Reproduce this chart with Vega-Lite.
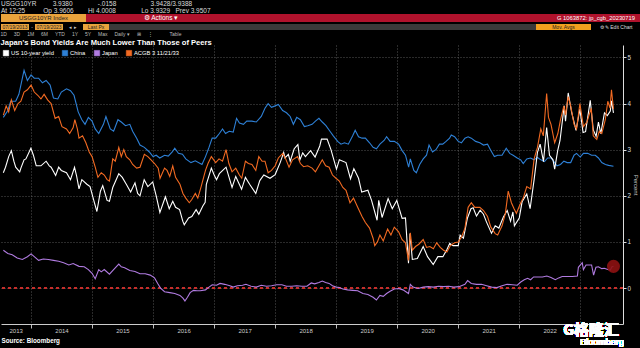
{
  "$schema": "https://vega.github.io/schema/vega-lite/v6.json",
  "background": "black",
  "padding": 0,
  "spacing": 2,
  "title": {
    "text": ["USGG10YR\u00a0\u00a0\u00a0\u00a0\u00a0\u00a0\u00a0\u00a0\u00a03.9380\u00a0\u00a0\u00a0\u00a0\u00a0\u00a0\u00a0\u00a0\u00a0\u00a0\u00a0\u00a0\u00a0\u00a0-.0158\u00a0\u00a0\u00a0\u00a0\u00a0\u00a0\u00a0\u00a0\u00a0\u00a0\u00a0\u00a0\u00a0\u00a0\u00a0\u00a0\u00a0\u00a0\u00a03.9428/3.9388", "At 12:25\u00a0\u00a0\u00a0\u00a0\u00a0\u00a0\u00a0\u00a0\u00a0\u00a0Op 3.9606\u00a0\u00a0\u00a0\u00a0\u00a0\u00a0\u00a0\u00a0Hi 4.0008\u00a0\u00a0\u00a0\u00a0\u00a0\u00a0\u00a0\u00a0\u00a0\u00a0\u00a0\u00a0\u00a0\u00a0Lo 3.9329\u00a0\u00a0\u00a0Prev 3.9507"],
    "anchor": "start", "frame": "group", "fontSize": 6.5, "lineHeight": 7, "color": "#dcdcdc", "fontWeight": "normal", "offset": 0
  },
  "datasets": {
    "yields": [
      {"date":"2013-07-19","series":"China","yield":3.70},{"date":"2013-08-15","series":"China","yield":3.85},{"date":"2013-09-01","series":"China","yield":4.05},{"date":"2013-10-01","series":"China","yield":4.05},{"date":"2013-10-20","series":"China","yield":4.20},{"date":"2013-11-20","series":"China","yield":4.72},{"date":"2013-12-10","series":"China","yield":4.50},{"date":"2014-01-01","series":"China","yield":4.62},{"date":"2014-01-20","series":"China","yield":4.55},{"date":"2014-02-15","series":"China","yield":4.55},{"date":"2014-03-10","series":"China","yield":4.45},{"date":"2014-04-01","series":"China","yield":4.50},{"date":"2014-04-25","series":"China","yield":4.40},{"date":"2014-05-15","series":"China","yield":4.12},{"date":"2014-06-10","series":"China","yield":4.10},{"date":"2014-07-01","series":"China","yield":4.25},{"date":"2014-08-01","series":"China","yield":4.32},{"date":"2014-08-25","series":"China","yield":4.28},{"date":"2014-09-15","series":"China","yield":4.18},{"date":"2014-10-10","series":"China","yield":3.82},{"date":"2014-11-01","series":"China","yield":3.65},{"date":"2014-11-20","series":"China","yield":3.55},{"date":"2014-12-10","series":"China","yield":3.70},{"date":"2015-01-01","series":"China","yield":3.62},{"date":"2015-01-20","series":"China","yield":3.45},{"date":"2015-02-10","series":"China","yield":3.35},{"date":"2015-03-10","series":"China","yield":3.55},{"date":"2015-03-25","series":"China","yield":3.72},{"date":"2015-04-20","series":"China","yield":3.45},{"date":"2015-05-10","series":"China","yield":3.40},{"date":"2015-06-05","series":"China","yield":3.65},{"date":"2015-06-25","series":"China","yield":3.60},{"date":"2015-07-20","series":"China","yield":3.52},{"date":"2015-08-15","series":"China","yield":3.55},{"date":"2015-09-01","series":"China","yield":3.40},{"date":"2015-09-25","series":"China","yield":3.25},{"date":"2015-10-15","series":"China","yield":3.10},{"date":"2015-11-10","series":"China","yield":3.05},{"date":"2015-12-10","series":"China","yield":2.95},{"date":"2016-01-01","series":"China","yield":2.85},{"date":"2016-01-20","series":"China","yield":2.88},{"date":"2016-02-10","series":"China","yield":2.82},{"date":"2016-03-10","series":"China","yield":2.88},{"date":"2016-04-01","series":"China","yield":2.86},{"date":"2016-04-25","series":"China","yield":2.95},{"date":"2016-05-10","series":"China","yield":3.03},{"date":"2016-06-01","series":"China","yield":2.92},{"date":"2016-06-25","series":"China","yield":2.90},{"date":"2016-07-15","series":"China","yield":2.80},{"date":"2016-08-15","series":"China","yield":2.72},{"date":"2016-09-10","series":"China","yield":2.76},{"date":"2016-10-20","series":"China","yield":2.68},{"date":"2016-11-10","series":"China","yield":2.85},{"date":"2016-12-01","series":"China","yield":3.05},{"date":"2016-12-20","series":"China","yield":3.25},{"date":"2017-01-10","series":"China","yield":3.25},{"date":"2017-02-01","series":"China","yield":3.35},{"date":"2017-02-20","series":"China","yield":3.45},{"date":"2017-03-10","series":"China","yield":3.35},{"date":"2017-04-01","series":"China","yield":3.40},{"date":"2017-04-25","series":"China","yield":3.38},{"date":"2017-05-15","series":"China","yield":3.68},{"date":"2017-06-01","series":"China","yield":3.58},{"date":"2017-06-25","series":"China","yield":3.55},{"date":"2017-07-15","series":"China","yield":3.62},{"date":"2017-08-15","series":"China","yield":3.62},{"date":"2017-09-10","series":"China","yield":3.60},{"date":"2017-10-10","series":"China","yield":3.72},{"date":"2017-11-01","series":"China","yield":3.90},{"date":"2017-11-20","series":"China","yield":4.00},{"date":"2017-12-10","series":"China","yield":3.92},{"date":"2018-01-01","series":"China","yield":3.95},{"date":"2018-01-20","series":"China","yield":3.98},{"date":"2018-02-15","series":"China","yield":3.85},{"date":"2018-03-10","series":"China","yield":3.80},{"date":"2018-04-01","series":"China","yield":3.72},{"date":"2018-04-20","series":"China","yield":3.55},{"date":"2018-05-10","series":"China","yield":3.70},{"date":"2018-06-01","series":"China","yield":3.65},{"date":"2018-06-25","series":"China","yield":3.50},{"date":"2018-07-15","series":"China","yield":3.52},{"date":"2018-08-10","series":"China","yield":3.55},{"date":"2018-08-30","series":"China","yield":3.62},{"date":"2018-09-20","series":"China","yield":3.68},{"date":"2018-10-10","series":"China","yield":3.60},{"date":"2018-11-01","series":"China","yield":3.52},{"date":"2018-11-25","series":"China","yield":3.40},{"date":"2018-12-15","series":"China","yield":3.30},{"date":"2019-01-10","series":"China","yield":3.18},{"date":"2019-01-30","series":"China","yield":3.12},{"date":"2019-02-20","series":"China","yield":3.15},{"date":"2019-03-15","series":"China","yield":3.12},{"date":"2019-04-10","series":"China","yield":3.30},{"date":"2019-04-25","series":"China","yield":3.42},{"date":"2019-05-15","series":"China","yield":3.28},{"date":"2019-06-05","series":"China","yield":3.25},{"date":"2019-06-25","series":"China","yield":3.25},{"date":"2019-07-20","series":"China","yield":3.15},{"date":"2019-08-10","series":"China","yield":3.05},{"date":"2019-08-30","series":"China","yield":3.02},{"date":"2019-09-20","series":"China","yield":3.12},{"date":"2019-10-15","series":"China","yield":3.20},{"date":"2019-10-30","series":"China","yield":3.28},{"date":"2019-11-20","series":"China","yield":3.18},{"date":"2019-12-15","series":"China","yield":3.18},{"date":"2020-01-10","series":"China","yield":3.12},{"date":"2020-01-31","series":"China","yield":2.98},{"date":"2020-02-20","series":"China","yield":2.88},{"date":"2020-03-10","series":"China","yield":2.62},{"date":"2020-03-20","series":"China","yield":2.80},{"date":"2020-04-10","series":"China","yield":2.55},{"date":"2020-04-25","series":"China","yield":2.50},{"date":"2020-05-15","series":"China","yield":2.68},{"date":"2020-06-05","series":"China","yield":2.80},{"date":"2020-06-25","series":"China","yield":2.88},{"date":"2020-07-10","series":"China","yield":3.10},{"date":"2020-07-31","series":"China","yield":2.95},{"date":"2020-08-20","series":"China","yield":3.00},{"date":"2020-09-10","series":"China","yield":3.12},{"date":"2020-09-30","series":"China","yield":3.12},{"date":"2020-10-20","series":"China","yield":3.18},{"date":"2020-11-10","series":"China","yield":3.25},{"date":"2020-11-20","series":"China","yield":3.32},{"date":"2020-12-10","series":"China","yield":3.28},{"date":"2021-01-01","series":"China","yield":3.18},{"date":"2021-01-20","series":"China","yield":3.15},{"date":"2021-02-10","series":"China","yield":3.25},{"date":"2021-03-01","series":"China","yield":3.28},{"date":"2021-03-20","series":"China","yield":3.25},{"date":"2021-04-15","series":"China","yield":3.18},{"date":"2021-05-10","series":"China","yield":3.15},{"date":"2021-06-01","series":"China","yield":3.10},{"date":"2021-06-25","series":"China","yield":3.12},{"date":"2021-07-15","series":"China","yield":2.98},{"date":"2021-08-05","series":"China","yield":2.85},{"date":"2021-08-25","series":"China","yield":2.88},{"date":"2021-09-20","series":"China","yield":2.88},{"date":"2021-10-15","series":"China","yield":3.03},{"date":"2021-11-05","series":"China","yield":2.92},{"date":"2021-11-25","series":"China","yield":2.88},{"date":"2021-12-20","series":"China","yield":2.82},{"date":"2022-01-10","series":"China","yield":2.78},{"date":"2022-01-25","series":"China","yield":2.70},{"date":"2022-02-15","series":"China","yield":2.80},{"date":"2022-03-10","series":"China","yield":2.82},{"date":"2022-03-30","series":"China","yield":2.78},{"date":"2022-04-20","series":"China","yield":2.83},{"date":"2022-05-10","series":"China","yield":2.78},{"date":"2022-06-01","series":"China","yield":2.74},{"date":"2022-06-20","series":"China","yield":2.82},{"date":"2022-07-10","series":"China","yield":2.82},{"date":"2022-07-25","series":"China","yield":2.75},{"date":"2022-08-15","series":"China","yield":2.65},{"date":"2022-09-05","series":"China","yield":2.68},{"date":"2022-09-25","series":"China","yield":2.75},{"date":"2022-10-15","series":"China","yield":2.72},{"date":"2022-11-05","series":"China","yield":2.72},{"date":"2022-11-25","series":"China","yield":2.88},{"date":"2022-12-10","series":"China","yield":2.92},{"date":"2023-01-01","series":"China","yield":2.84},{"date":"2023-01-20","series":"China","yield":2.92},{"date":"2023-02-15","series":"China","yield":2.92},{"date":"2023-03-10","series":"China","yield":2.88},{"date":"2023-04-01","series":"China","yield":2.88},{"date":"2023-04-20","series":"China","yield":2.82},{"date":"2023-05-10","series":"China","yield":2.72},{"date":"2023-06-01","series":"China","yield":2.68},{"date":"2023-06-20","series":"China","yield":2.66},{"date":"2023-07-19","series":"China","yield":2.64},

      {"date":"2013-07-19","series":"Japan","yield":0.82},{"date":"2013-08-15","series":"Japan","yield":0.75},{"date":"2013-09-10","series":"Japan","yield":0.72},{"date":"2013-10-10","series":"Japan","yield":0.65},{"date":"2013-11-10","series":"Japan","yield":0.62},{"date":"2013-12-10","series":"Japan","yield":0.68},{"date":"2014-01-01","series":"Japan","yield":0.74},{"date":"2014-01-20","series":"Japan","yield":0.68},{"date":"2014-02-15","series":"Japan","yield":0.60},{"date":"2014-03-15","series":"Japan","yield":0.63},{"date":"2014-04-15","series":"Japan","yield":0.62},{"date":"2014-05-15","series":"Japan","yield":0.60},{"date":"2014-06-15","series":"Japan","yield":0.58},{"date":"2014-07-15","series":"Japan","yield":0.55},{"date":"2014-08-15","series":"Japan","yield":0.50},{"date":"2014-09-10","series":"Japan","yield":0.53},{"date":"2014-10-15","series":"Japan","yield":0.47},{"date":"2014-11-15","series":"Japan","yield":0.46},{"date":"2014-12-10","series":"Japan","yield":0.40},{"date":"2015-01-01","series":"Japan","yield":0.32},{"date":"2015-01-20","series":"Japan","yield":0.20},{"date":"2015-02-10","series":"Japan","yield":0.40},{"date":"2015-02-25","series":"Japan","yield":0.35},{"date":"2015-03-15","series":"Japan","yield":0.40},{"date":"2015-04-15","series":"Japan","yield":0.30},{"date":"2015-05-10","series":"Japan","yield":0.40},{"date":"2015-06-10","series":"Japan","yield":0.52},{"date":"2015-06-25","series":"Japan","yield":0.46},{"date":"2015-07-15","series":"Japan","yield":0.44},{"date":"2015-08-15","series":"Japan","yield":0.38},{"date":"2015-09-15","series":"Japan","yield":0.36},{"date":"2015-10-15","series":"Japan","yield":0.31},{"date":"2015-11-15","series":"Japan","yield":0.31},{"date":"2015-12-15","series":"Japan","yield":0.28},{"date":"2016-01-10","series":"Japan","yield":0.22},{"date":"2016-01-29","series":"Japan","yield":0.10},{"date":"2016-02-15","series":"Japan","yield":0.00},{"date":"2016-03-10","series":"Japan","yield":-0.08},{"date":"2016-04-10","series":"Japan","yield":-0.10},{"date":"2016-05-10","series":"Japan","yield":-0.12},{"date":"2016-06-10","series":"Japan","yield":-0.16},{"date":"2016-06-28","series":"Japan","yield":-0.22},{"date":"2016-07-10","series":"Japan","yield":-0.28},{"date":"2016-07-25","series":"Japan","yield":-0.20},{"date":"2016-08-10","series":"Japan","yield":-0.10},{"date":"2016-08-30","series":"Japan","yield":-0.05},{"date":"2016-09-20","series":"Japan","yield":-0.06},{"date":"2016-10-10","series":"Japan","yield":-0.06},{"date":"2016-11-10","series":"Japan","yield":-0.04},{"date":"2016-12-01","series":"Japan","yield":0.02},{"date":"2016-12-20","series":"Japan","yield":0.07},{"date":"2017-01-15","series":"Japan","yield":0.06},{"date":"2017-02-05","series":"Japan","yield":0.10},{"date":"2017-03-05","series":"Japan","yield":0.08},{"date":"2017-04-05","series":"Japan","yield":0.05},{"date":"2017-04-25","series":"Japan","yield":0.02},{"date":"2017-05-20","series":"Japan","yield":0.05},{"date":"2017-06-20","series":"Japan","yield":0.06},{"date":"2017-07-10","series":"Japan","yield":0.08},{"date":"2017-08-10","series":"Japan","yield":0.04},{"date":"2017-09-10","series":"Japan","yield":0.02},{"date":"2017-10-10","series":"Japan","yield":0.06},{"date":"2017-11-10","series":"Japan","yield":0.04},{"date":"2017-12-10","series":"Japan","yield":0.05},{"date":"2018-01-10","series":"Japan","yield":0.07},{"date":"2018-02-10","series":"Japan","yield":0.07},{"date":"2018-03-10","series":"Japan","yield":0.04},{"date":"2018-04-10","series":"Japan","yield":0.04},{"date":"2018-05-10","series":"Japan","yield":0.05},{"date":"2018-06-10","series":"Japan","yield":0.04},{"date":"2018-07-10","series":"Japan","yield":0.04},{"date":"2018-08-05","series":"Japan","yield":0.11},{"date":"2018-08-25","series":"Japan","yield":0.09},{"date":"2018-09-20","series":"Japan","yield":0.12},{"date":"2018-10-10","series":"Japan","yield":0.15},{"date":"2018-10-30","series":"Japan","yield":0.12},{"date":"2018-11-20","series":"Japan","yield":0.10},{"date":"2018-12-10","series":"Japan","yield":0.05},{"date":"2019-01-01","series":"Japan","yield":0.02},{"date":"2019-01-20","series":"Japan","yield":0.01},{"date":"2019-02-10","series":"Japan","yield":-0.02},{"date":"2019-03-10","series":"Japan","yield":-0.04},{"date":"2019-04-10","series":"Japan","yield":-0.05},{"date":"2019-05-10","series":"Japan","yield":-0.06},{"date":"2019-06-10","series":"Japan","yield":-0.12},{"date":"2019-07-10","series":"Japan","yield":-0.14},{"date":"2019-08-10","series":"Japan","yield":-0.20},{"date":"2019-08-30","series":"Japan","yield":-0.26},{"date":"2019-09-20","series":"Japan","yield":-0.16},{"date":"2019-10-10","series":"Japan","yield":-0.18},{"date":"2019-10-30","series":"Japan","yield":-0.12},{"date":"2019-11-20","series":"Japan","yield":-0.07},{"date":"2019-12-15","series":"Japan","yield":-0.02},{"date":"2020-01-10","series":"Japan","yield":-0.01},{"date":"2020-02-05","series":"Japan","yield":-0.04},{"date":"2020-03-09","series":"Japan","yield":-0.12},{"date":"2020-03-20","series":"Japan","yield":0.08},{"date":"2020-04-05","series":"Japan","yield":0.02},{"date":"2020-05-05","series":"Japan","yield":-0.01},{"date":"2020-06-05","series":"Japan","yield":0.02},{"date":"2020-07-05","series":"Japan","yield":0.03},{"date":"2020-08-05","series":"Japan","yield":0.02},{"date":"2020-09-05","series":"Japan","yield":0.04},{"date":"2020-10-05","series":"Japan","yield":0.03},{"date":"2020-11-05","series":"Japan","yield":0.04},{"date":"2020-12-05","series":"Japan","yield":0.02},{"date":"2021-01-05","series":"Japan","yield":0.03},{"date":"2021-02-10","series":"Japan","yield":0.08},{"date":"2021-02-26","series":"Japan","yield":0.16},{"date":"2021-03-20","series":"Japan","yield":0.10},{"date":"2021-04-20","series":"Japan","yield":0.08},{"date":"2021-05-20","series":"Japan","yield":0.08},{"date":"2021-06-20","series":"Japan","yield":0.05},{"date":"2021-07-20","series":"Japan","yield":0.02},{"date":"2021-08-20","series":"Japan","yield":0.01},{"date":"2021-09-20","series":"Japan","yield":0.05},{"date":"2021-10-20","series":"Japan","yield":0.08},{"date":"2021-11-20","series":"Japan","yield":0.07},{"date":"2021-12-20","series":"Japan","yield":0.06},{"date":"2022-01-10","series":"Japan","yield":0.13},{"date":"2022-01-31","series":"Japan","yield":0.18},{"date":"2022-02-20","series":"Japan","yield":0.21},{"date":"2022-03-10","series":"Japan","yield":0.18},{"date":"2022-03-28","series":"Japan","yield":0.24},{"date":"2022-04-20","series":"Japan","yield":0.24},{"date":"2022-05-20","series":"Japan","yield":0.24},{"date":"2022-06-15","series":"Japan","yield":0.26},{"date":"2022-07-10","series":"Japan","yield":0.23},{"date":"2022-08-05","series":"Japan","yield":0.18},{"date":"2022-08-25","series":"Japan","yield":0.22},{"date":"2022-09-15","series":"Japan","yield":0.25},{"date":"2022-10-15","series":"Japan","yield":0.25},{"date":"2022-11-15","series":"Japan","yield":0.25},{"date":"2022-12-15","series":"Japan","yield":0.26},{"date":"2022-12-21","series":"Japan","yield":0.45},{"date":"2023-01-13","series":"Japan","yield":0.55},{"date":"2023-01-20","series":"Japan","yield":0.40},{"date":"2023-02-05","series":"Japan","yield":0.50},{"date":"2023-02-20","series":"Japan","yield":0.50},{"date":"2023-03-10","series":"Japan","yield":0.50},{"date":"2023-03-22","series":"Japan","yield":0.28},{"date":"2023-04-05","series":"Japan","yield":0.45},{"date":"2023-04-20","series":"Japan","yield":0.46},{"date":"2023-05-10","series":"Japan","yield":0.42},{"date":"2023-05-25","series":"Japan","yield":0.43},{"date":"2023-06-15","series":"Japan","yield":0.40},{"date":"2023-06-30","series":"Japan","yield":0.39},{"date":"2023-07-10","series":"Japan","yield":0.46},{"date":"2023-07-19","series":"Japan","yield":0.47},

      {"date":"2013-07-19","series":"US 10-year yield","yield":2.50},{"date":"2013-08-01","series":"US 10-year yield","yield":2.62},{"date":"2013-08-20","series":"US 10-year yield","yield":2.85},{"date":"2013-09-05","series":"US 10-year yield","yield":2.98},{"date":"2013-09-20","series":"US 10-year yield","yield":2.75},{"date":"2013-10-01","series":"US 10-year yield","yield":2.62},{"date":"2013-10-25","series":"US 10-year yield","yield":2.52},{"date":"2013-11-01","series":"US 10-year yield","yield":2.60},{"date":"2013-11-20","series":"US 10-year yield","yield":2.78},{"date":"2013-12-01","series":"US 10-year yield","yield":2.80},{"date":"2013-12-31","series":"US 10-year yield","yield":3.03},{"date":"2014-01-15","series":"US 10-year yield","yield":2.88},{"date":"2014-02-01","series":"US 10-year yield","yield":2.65},{"date":"2014-03-01","series":"US 10-year yield","yield":2.65},{"date":"2014-04-01","series":"US 10-year yield","yield":2.75},{"date":"2014-04-20","series":"US 10-year yield","yield":2.65},{"date":"2014-05-01","series":"US 10-year yield","yield":2.62},{"date":"2014-05-28","series":"US 10-year yield","yield":2.44},{"date":"2014-06-15","series":"US 10-year yield","yield":2.62},{"date":"2014-07-01","series":"US 10-year yield","yield":2.55},{"date":"2014-08-01","series":"US 10-year yield","yield":2.50},{"date":"2014-08-25","series":"US 10-year yield","yield":2.35},{"date":"2014-09-18","series":"US 10-year yield","yield":2.62},{"date":"2014-10-01","series":"US 10-year yield","yield":2.42},{"date":"2014-10-15","series":"US 10-year yield","yield":2.15},{"date":"2014-11-01","series":"US 10-year yield","yield":2.35},{"date":"2014-12-01","series":"US 10-year yield","yield":2.25},{"date":"2014-12-20","series":"US 10-year yield","yield":2.20},{"date":"2015-01-15","series":"US 10-year yield","yield":1.85},{"date":"2015-01-30","series":"US 10-year yield","yield":1.66},{"date":"2015-02-20","series":"US 10-year yield","yield":2.10},{"date":"2015-03-06","series":"US 10-year yield","yield":2.22},{"date":"2015-04-01","series":"US 10-year yield","yield":1.90},{"date":"2015-04-15","series":"US 10-year yield","yield":1.88},{"date":"2015-05-05","series":"US 10-year yield","yield":2.18},{"date":"2015-06-10","series":"US 10-year yield","yield":2.48},{"date":"2015-07-01","series":"US 10-year yield","yield":2.40},{"date":"2015-07-25","series":"US 10-year yield","yield":2.25},{"date":"2015-08-20","series":"US 10-year yield","yield":2.08},{"date":"2015-09-15","series":"US 10-year yield","yield":2.28},{"date":"2015-10-01","series":"US 10-year yield","yield":2.05},{"date":"2015-10-15","series":"US 10-year yield","yield":2.00},{"date":"2015-11-09","series":"US 10-year yield","yield":2.35},{"date":"2015-12-01","series":"US 10-year yield","yield":2.20},{"date":"2015-12-30","series":"US 10-year yield","yield":2.30},{"date":"2016-01-20","series":"US 10-year yield","yield":2.00},{"date":"2016-02-11","series":"US 10-year yield","yield":1.64},{"date":"2016-03-15","series":"US 10-year yield","yield":1.98},{"date":"2016-04-07","series":"US 10-year yield","yield":1.72},{"date":"2016-04-28","series":"US 10-year yield","yield":1.88},{"date":"2016-05-15","series":"US 10-year yield","yield":1.75},{"date":"2016-06-08","series":"US 10-year yield","yield":1.70},{"date":"2016-06-27","series":"US 10-year yield","yield":1.45},{"date":"2016-07-06","series":"US 10-year yield","yield":1.37},{"date":"2016-08-01","series":"US 10-year yield","yield":1.52},{"date":"2016-08-20","series":"US 10-year yield","yield":1.55},{"date":"2016-09-15","series":"US 10-year yield","yield":1.70},{"date":"2016-10-01","series":"US 10-year yield","yield":1.60},{"date":"2016-10-25","series":"US 10-year yield","yield":1.78},{"date":"2016-11-08","series":"US 10-year yield","yield":1.86},{"date":"2016-11-15","series":"US 10-year yield","yield":2.25},{"date":"2016-12-15","series":"US 10-year yield","yield":2.60},{"date":"2017-01-01","series":"US 10-year yield","yield":2.45},{"date":"2017-01-15","series":"US 10-year yield","yield":2.35},{"date":"2017-02-01","series":"US 10-year yield","yield":2.48},{"date":"2017-03-13","series":"US 10-year yield","yield":2.62},{"date":"2017-04-18","series":"US 10-year yield","yield":2.18},{"date":"2017-05-10","series":"US 10-year yield","yield":2.42},{"date":"2017-06-14","series":"US 10-year yield","yield":2.14},{"date":"2017-07-07","series":"US 10-year yield","yield":2.40},{"date":"2017-08-01","series":"US 10-year yield","yield":2.25},{"date":"2017-09-07","series":"US 10-year yield","yield":2.05},{"date":"2017-10-01","series":"US 10-year yield","yield":2.33},{"date":"2017-10-25","series":"US 10-year yield","yield":2.45},{"date":"2017-12-01","series":"US 10-year yield","yield":2.38},{"date":"2018-01-01","series":"US 10-year yield","yield":2.46},{"date":"2018-01-31","series":"US 10-year yield","yield":2.72},{"date":"2018-02-21","series":"US 10-year yield","yield":2.94},{"date":"2018-03-01","series":"US 10-year yield","yield":2.82},{"date":"2018-03-21","series":"US 10-year yield","yield":2.90},{"date":"2018-04-01","series":"US 10-year yield","yield":2.75},{"date":"2018-04-25","series":"US 10-year yield","yield":3.02},{"date":"2018-05-17","series":"US 10-year yield","yield":3.11},{"date":"2018-05-29","series":"US 10-year yield","yield":2.78},{"date":"2018-06-15","series":"US 10-year yield","yield":2.93},{"date":"2018-07-01","series":"US 10-year yield","yield":2.85},{"date":"2018-08-01","series":"US 10-year yield","yield":2.98},{"date":"2018-08-28","series":"US 10-year yield","yield":2.84},{"date":"2018-09-25","series":"US 10-year yield","yield":3.08},{"date":"2018-10-05","series":"US 10-year yield","yield":3.23},{"date":"2018-11-08","series":"US 10-year yield","yield":3.23},{"date":"2018-12-01","series":"US 10-year yield","yield":3.00},{"date":"2019-01-03","series":"US 10-year yield","yield":2.58},{"date":"2019-01-20","series":"US 10-year yield","yield":2.78},{"date":"2019-03-01","series":"US 10-year yield","yield":2.72},{"date":"2019-03-28","series":"US 10-year yield","yield":2.37},{"date":"2019-04-17","series":"US 10-year yield","yield":2.59},{"date":"2019-05-15","series":"US 10-year yield","yield":2.38},{"date":"2019-06-03","series":"US 10-year yield","yield":2.08},{"date":"2019-07-10","series":"US 10-year yield","yield":2.12},{"date":"2019-08-01","series":"US 10-year yield","yield":1.90},{"date":"2019-09-03","series":"US 10-year yield","yield":1.47},{"date":"2019-09-13","series":"US 10-year yield","yield":1.90},{"date":"2019-10-03","series":"US 10-year yield","yield":1.53},{"date":"2019-11-08","series":"US 10-year yield","yield":1.94},{"date":"2019-12-03","series":"US 10-year yield","yield":1.72},{"date":"2019-12-30","series":"US 10-year yield","yield":1.90},{"date":"2020-01-31","series":"US 10-year yield","yield":1.51},{"date":"2020-02-20","series":"US 10-year yield","yield":1.52},{"date":"2020-03-09","series":"US 10-year yield","yield":0.54},{"date":"2020-03-18","series":"US 10-year yield","yield":1.18},{"date":"2020-04-01","series":"US 10-year yield","yield":0.62},{"date":"2020-05-01","series":"US 10-year yield","yield":0.64},{"date":"2020-06-05","series":"US 10-year yield","yield":0.90},{"date":"2020-07-01","series":"US 10-year yield","yield":0.68},{"date":"2020-08-04","series":"US 10-year yield","yield":0.51},{"date":"2020-09-01","series":"US 10-year yield","yield":0.68},{"date":"2020-10-01","series":"US 10-year yield","yield":0.68},{"date":"2020-10-26","series":"US 10-year yield","yield":0.84},{"date":"2020-11-11","series":"US 10-year yield","yield":0.97},{"date":"2020-12-01","series":"US 10-year yield","yield":0.92},{"date":"2021-01-01","series":"US 10-year yield","yield":0.92},{"date":"2021-01-12","series":"US 10-year yield","yield":1.15},{"date":"2021-02-01","series":"US 10-year yield","yield":1.08},{"date":"2021-02-25","series":"US 10-year yield","yield":1.52},{"date":"2021-03-18","series":"US 10-year yield","yield":1.72},{"date":"2021-03-31","series":"US 10-year yield","yield":1.74},{"date":"2021-04-20","series":"US 10-year yield","yield":1.56},{"date":"2021-05-12","series":"US 10-year yield","yield":1.69},{"date":"2021-06-01","series":"US 10-year yield","yield":1.60},{"date":"2021-06-18","series":"US 10-year yield","yield":1.44},{"date":"2021-07-19","series":"US 10-year yield","yield":1.19},{"date":"2021-08-10","series":"US 10-year yield","yield":1.35},{"date":"2021-09-01","series":"US 10-year yield","yield":1.30},{"date":"2021-09-28","series":"US 10-year yield","yield":1.54},{"date":"2021-10-21","series":"US 10-year yield","yield":1.68},{"date":"2021-11-10","series":"US 10-year yield","yield":1.45},{"date":"2021-11-24","series":"US 10-year yield","yield":1.65},{"date":"2021-12-03","series":"US 10-year yield","yield":1.35},{"date":"2022-01-01","series":"US 10-year yield","yield":1.52},{"date":"2022-01-18","series":"US 10-year yield","yield":1.87},{"date":"2022-02-15","series":"US 10-year yield","yield":2.04},{"date":"2022-03-07","series":"US 10-year yield","yield":1.72},{"date":"2022-03-31","series":"US 10-year yield","yield":2.35},{"date":"2022-04-20","series":"US 10-year yield","yield":2.94},{"date":"2022-05-06","series":"US 10-year yield","yield":3.12},{"date":"2022-05-26","series":"US 10-year yield","yield":2.74},{"date":"2022-06-14","series":"US 10-year yield","yield":3.48},{"date":"2022-07-01","series":"US 10-year yield","yield":2.88},{"date":"2022-07-22","series":"US 10-year yield","yield":2.78},{"date":"2022-08-01","series":"US 10-year yield","yield":2.58},{"date":"2022-08-19","series":"US 10-year yield","yield":2.98},{"date":"2022-09-02","series":"US 10-year yield","yield":3.20},{"date":"2022-09-27","series":"US 10-year yield","yield":3.95},{"date":"2022-10-05","series":"US 10-year yield","yield":3.62},{"date":"2022-10-21","series":"US 10-year yield","yield":4.23},{"date":"2022-11-10","series":"US 10-year yield","yield":3.82},{"date":"2022-12-07","series":"US 10-year yield","yield":3.42},{"date":"2022-12-30","series":"US 10-year yield","yield":3.88},{"date":"2023-01-18","series":"US 10-year yield","yield":3.37},{"date":"2023-02-02","series":"US 10-year yield","yield":3.39},{"date":"2023-03-02","series":"US 10-year yield","yield":4.07},{"date":"2023-03-20","series":"US 10-year yield","yield":3.43},{"date":"2023-04-06","series":"US 10-year yield","yield":3.29},{"date":"2023-04-20","series":"US 10-year yield","yield":3.60},{"date":"2023-05-04","series":"US 10-year yield","yield":3.35},{"date":"2023-05-26","series":"US 10-year yield","yield":3.80},{"date":"2023-06-12","series":"US 10-year yield","yield":3.74},{"date":"2023-06-30","series":"US 10-year yield","yield":3.84},{"date":"2023-07-07","series":"US 10-year yield","yield":4.06},{"date":"2023-07-19","series":"US 10-year yield","yield":3.80},

      {"date":"2013-07-19","series":"ACGB 3 11/21/33","yield":3.75},{"date":"2013-08-05","series":"ACGB 3 11/21/33","yield":3.95},{"date":"2013-08-20","series":"ACGB 3 11/21/33","yield":3.82},{"date":"2013-09-05","series":"ACGB 3 11/21/33","yield":4.08},{"date":"2013-09-25","series":"ACGB 3 11/21/33","yield":3.85},{"date":"2013-10-15","series":"ACGB 3 11/21/33","yield":4.00},{"date":"2013-11-01","series":"ACGB 3 11/21/33","yield":4.05},{"date":"2013-11-20","series":"ACGB 3 11/21/33","yield":4.25},{"date":"2013-12-10","series":"ACGB 3 11/21/33","yield":4.30},{"date":"2014-01-01","series":"ACGB 3 11/21/33","yield":4.40},{"date":"2014-01-20","series":"ACGB 3 11/21/33","yield":4.25},{"date":"2014-02-10","series":"ACGB 3 11/21/33","yield":4.18},{"date":"2014-03-01","series":"ACGB 3 11/21/33","yield":4.10},{"date":"2014-03-20","series":"ACGB 3 11/21/33","yield":4.20},{"date":"2014-04-10","series":"ACGB 3 11/21/33","yield":4.08},{"date":"2014-05-01","series":"ACGB 3 11/21/33","yield":4.00},{"date":"2014-05-25","series":"ACGB 3 11/21/33","yield":3.68},{"date":"2014-06-15","series":"ACGB 3 11/21/33","yield":3.72},{"date":"2014-07-05","series":"ACGB 3 11/21/33","yield":3.50},{"date":"2014-08-01","series":"ACGB 3 11/21/33","yield":3.45},{"date":"2014-08-20","series":"ACGB 3 11/21/33","yield":3.35},{"date":"2014-09-10","series":"ACGB 3 11/21/33","yield":3.48},{"date":"2014-09-20","series":"ACGB 3 11/21/33","yield":3.65},{"date":"2014-10-05","series":"ACGB 3 11/21/33","yield":3.45},{"date":"2014-10-15","series":"ACGB 3 11/21/33","yield":3.25},{"date":"2014-11-05","series":"ACGB 3 11/21/33","yield":3.30},{"date":"2014-11-25","series":"ACGB 3 11/21/33","yield":3.15},{"date":"2014-12-15","series":"ACGB 3 11/21/33","yield":2.95},{"date":"2015-01-01","series":"ACGB 3 11/21/33","yield":2.85},{"date":"2015-01-20","series":"ACGB 3 11/21/33","yield":2.62},{"date":"2015-02-05","series":"ACGB 3 11/21/33","yield":2.40},{"date":"2015-02-25","series":"ACGB 3 11/21/33","yield":2.50},{"date":"2015-03-15","series":"ACGB 3 11/21/33","yield":2.45},{"date":"2015-04-01","series":"ACGB 3 11/21/33","yield":2.35},{"date":"2015-04-15","series":"ACGB 3 11/21/33","yield":2.32},{"date":"2015-05-05","series":"ACGB 3 11/21/33","yield":2.80},{"date":"2015-05-20","series":"ACGB 3 11/21/33","yield":2.75},{"date":"2015-06-10","series":"ACGB 3 11/21/33","yield":3.05},{"date":"2015-06-25","series":"ACGB 3 11/21/33","yield":2.85},{"date":"2015-07-10","series":"ACGB 3 11/21/33","yield":3.00},{"date":"2015-07-25","series":"ACGB 3 11/21/33","yield":2.85},{"date":"2015-08-15","series":"ACGB 3 11/21/33","yield":2.78},{"date":"2015-09-01","series":"ACGB 3 11/21/33","yield":2.68},{"date":"2015-09-25","series":"ACGB 3 11/21/33","yield":2.60},{"date":"2015-10-15","series":"ACGB 3 11/21/33","yield":2.62},{"date":"2015-11-10","series":"ACGB 3 11/21/33","yield":2.90},{"date":"2015-12-01","series":"ACGB 3 11/21/33","yield":2.85},{"date":"2015-12-20","series":"ACGB 3 11/21/33","yield":2.78},{"date":"2016-01-10","series":"ACGB 3 11/21/33","yield":2.70},{"date":"2016-02-01","series":"ACGB 3 11/21/33","yield":2.60},{"date":"2016-02-12","series":"ACGB 3 11/21/33","yield":2.38},{"date":"2016-03-10","series":"ACGB 3 11/21/33","yield":2.60},{"date":"2016-03-25","series":"ACGB 3 11/21/33","yield":2.55},{"date":"2016-04-10","series":"ACGB 3 11/21/33","yield":2.42},{"date":"2016-04-28","series":"ACGB 3 11/21/33","yield":2.65},{"date":"2016-05-15","series":"ACGB 3 11/21/33","yield":2.40},{"date":"2016-06-10","series":"ACGB 3 11/21/33","yield":2.25},{"date":"2016-06-28","series":"ACGB 3 11/21/33","yield":2.05},{"date":"2016-07-15","series":"ACGB 3 11/21/33","yield":1.95},{"date":"2016-08-05","series":"ACGB 3 11/21/33","yield":1.85},{"date":"2016-08-20","series":"ACGB 3 11/21/33","yield":1.92},{"date":"2016-09-10","series":"ACGB 3 11/21/33","yield":2.05},{"date":"2016-09-25","series":"ACGB 3 11/21/33","yield":1.95},{"date":"2016-10-15","series":"ACGB 3 11/21/33","yield":2.20},{"date":"2016-11-10","series":"ACGB 3 11/21/33","yield":2.55},{"date":"2016-11-25","series":"ACGB 3 11/21/33","yield":2.70},{"date":"2016-12-15","series":"ACGB 3 11/21/33","yield":2.85},{"date":"2017-01-10","series":"ACGB 3 11/21/33","yield":2.72},{"date":"2017-01-30","series":"ACGB 3 11/21/33","yield":2.80},{"date":"2017-02-20","series":"ACGB 3 11/21/33","yield":2.75},{"date":"2017-03-13","series":"ACGB 3 11/21/33","yield":3.00},{"date":"2017-03-30","series":"ACGB 3 11/21/33","yield":2.70},{"date":"2017-04-18","series":"ACGB 3 11/21/33","yield":2.52},{"date":"2017-05-10","series":"ACGB 3 11/21/33","yield":2.60},{"date":"2017-06-01","series":"ACGB 3 11/21/33","yield":2.45},{"date":"2017-06-15","series":"ACGB 3 11/21/33","yield":2.38},{"date":"2017-07-07","series":"ACGB 3 11/21/33","yield":2.75},{"date":"2017-07-25","series":"ACGB 3 11/21/33","yield":2.70},{"date":"2017-08-15","series":"ACGB 3 11/21/33","yield":2.68},{"date":"2017-09-07","series":"ACGB 3 11/21/33","yield":2.55},{"date":"2017-09-25","series":"ACGB 3 11/21/33","yield":2.85},{"date":"2017-10-15","series":"ACGB 3 11/21/33","yield":2.75},{"date":"2017-11-01","series":"ACGB 3 11/21/33","yield":2.75},{"date":"2017-11-20","series":"ACGB 3 11/21/33","yield":2.50},{"date":"2017-12-10","series":"ACGB 3 11/21/33","yield":2.55},{"date":"2018-01-01","series":"ACGB 3 11/21/33","yield":2.65},{"date":"2018-01-20","series":"ACGB 3 11/21/33","yield":2.82},{"date":"2018-02-15","series":"ACGB 3 11/21/33","yield":2.92},{"date":"2018-03-05","series":"ACGB 3 11/21/33","yield":2.80},{"date":"2018-03-25","series":"ACGB 3 11/21/33","yield":2.62},{"date":"2018-04-15","series":"ACGB 3 11/21/33","yield":2.78},{"date":"2018-05-15","series":"ACGB 3 11/21/33","yield":2.85},{"date":"2018-06-01","series":"ACGB 3 11/21/33","yield":2.70},{"date":"2018-06-20","series":"ACGB 3 11/21/33","yield":2.63},{"date":"2018-07-15","series":"ACGB 3 11/21/33","yield":2.65},{"date":"2018-08-10","series":"ACGB 3 11/21/33","yield":2.60},{"date":"2018-08-30","series":"ACGB 3 11/21/33","yield":2.52},{"date":"2018-09-20","series":"ACGB 3 11/21/33","yield":2.65},{"date":"2018-10-10","series":"ACGB 3 11/21/33","yield":2.78},{"date":"2018-10-30","series":"ACGB 3 11/21/33","yield":2.65},{"date":"2018-11-20","series":"ACGB 3 11/21/33","yield":2.62},{"date":"2018-12-10","series":"ACGB 3 11/21/33","yield":2.45},{"date":"2018-12-31","series":"ACGB 3 11/21/33","yield":2.38},{"date":"2019-01-20","series":"ACGB 3 11/21/33","yield":2.32},{"date":"2019-02-10","series":"ACGB 3 11/21/33","yield":2.18},{"date":"2019-03-01","series":"ACGB 3 11/21/33","yield":2.12},{"date":"2019-03-25","series":"ACGB 3 11/21/33","yield":1.85},{"date":"2019-04-15","series":"ACGB 3 11/21/33","yield":1.95},{"date":"2019-05-10","series":"ACGB 3 11/21/33","yield":1.75},{"date":"2019-06-05","series":"ACGB 3 11/21/33","yield":1.55},{"date":"2019-06-25","series":"ACGB 3 11/21/33","yield":1.42},{"date":"2019-07-20","series":"ACGB 3 11/21/33","yield":1.30},{"date":"2019-08-10","series":"ACGB 3 11/21/33","yield":1.08},{"date":"2019-08-20","series":"ACGB 3 11/21/33","yield":0.92},{"date":"2019-09-05","series":"ACGB 3 11/21/33","yield":1.00},{"date":"2019-09-20","series":"ACGB 3 11/21/33","yield":1.15},{"date":"2019-10-10","series":"ACGB 3 11/21/33","yield":1.02},{"date":"2019-11-05","series":"ACGB 3 11/21/33","yield":1.28},{"date":"2019-11-25","series":"ACGB 3 11/21/33","yield":1.15},{"date":"2019-12-15","series":"ACGB 3 11/21/33","yield":1.32},{"date":"2020-01-10","series":"ACGB 3 11/21/33","yield":1.22},{"date":"2020-01-31","series":"ACGB 3 11/21/33","yield":1.05},{"date":"2020-02-20","series":"ACGB 3 11/21/33","yield":0.98},{"date":"2020-03-09","series":"ACGB 3 11/21/33","yield":0.60},{"date":"2020-03-20","series":"ACGB 3 11/21/33","yield":1.20},{"date":"2020-04-01","series":"ACGB 3 11/21/33","yield":0.82},{"date":"2020-04-20","series":"ACGB 3 11/21/33","yield":0.90},{"date":"2020-05-10","series":"ACGB 3 11/21/33","yield":0.95},{"date":"2020-06-05","series":"ACGB 3 11/21/33","yield":1.05},{"date":"2020-06-25","series":"ACGB 3 11/21/33","yield":0.88},{"date":"2020-07-15","series":"ACGB 3 11/21/33","yield":0.90},{"date":"2020-08-05","series":"ACGB 3 11/21/33","yield":0.85},{"date":"2020-08-25","series":"ACGB 3 11/21/33","yield":0.98},{"date":"2020-09-15","series":"ACGB 3 11/21/33","yield":0.88},{"date":"2020-10-05","series":"ACGB 3 11/21/33","yield":0.82},{"date":"2020-10-25","series":"ACGB 3 11/21/33","yield":0.78},{"date":"2020-11-15","series":"ACGB 3 11/21/33","yield":0.92},{"date":"2020-12-10","series":"ACGB 3 11/21/33","yield":0.98},{"date":"2021-01-01","series":"ACGB 3 11/21/33","yield":1.00},{"date":"2021-01-20","series":"ACGB 3 11/21/33","yield":1.10},{"date":"2021-02-10","series":"ACGB 3 11/21/33","yield":1.30},{"date":"2021-03-01","series":"ACGB 3 11/21/33","yield":1.75},{"date":"2021-03-20","series":"ACGB 3 11/21/33","yield":1.85},{"date":"2021-04-10","series":"ACGB 3 11/21/33","yield":1.75},{"date":"2021-05-10","series":"ACGB 3 11/21/33","yield":1.75},{"date":"2021-06-01","series":"ACGB 3 11/21/33","yield":1.68},{"date":"2021-06-25","series":"ACGB 3 11/21/33","yield":1.55},{"date":"2021-07-15","series":"ACGB 3 11/21/33","yield":1.32},{"date":"2021-08-10","series":"ACGB 3 11/21/33","yield":1.18},{"date":"2021-08-25","series":"ACGB 3 11/21/33","yield":1.15},{"date":"2021-09-20","series":"ACGB 3 11/21/33","yield":1.35},{"date":"2021-10-10","series":"ACGB 3 11/21/33","yield":1.62},{"date":"2021-10-27","series":"ACGB 3 11/21/33","yield":2.10},{"date":"2021-11-15","series":"ACGB 3 11/21/33","yield":1.85},{"date":"2021-12-01","series":"ACGB 3 11/21/33","yield":1.72},{"date":"2021-12-15","series":"ACGB 3 11/21/33","yield":1.62},{"date":"2022-01-10","series":"ACGB 3 11/21/33","yield":1.85},{"date":"2022-01-25","series":"ACGB 3 11/21/33","yield":1.95},{"date":"2022-02-15","series":"ACGB 3 11/21/33","yield":2.20},{"date":"2022-03-10","series":"ACGB 3 11/21/33","yield":2.15},{"date":"2022-03-31","series":"ACGB 3 11/21/33","yield":2.80},{"date":"2022-04-20","series":"ACGB 3 11/21/33","yield":3.05},{"date":"2022-05-10","series":"ACGB 3 11/21/33","yield":3.45},{"date":"2022-05-25","series":"ACGB 3 11/21/33","yield":3.30},{"date":"2022-06-14","series":"ACGB 3 11/21/33","yield":4.22},{"date":"2022-06-25","series":"ACGB 3 11/21/33","yield":3.70},{"date":"2022-07-10","series":"ACGB 3 11/21/33","yield":3.55},{"date":"2022-08-01","series":"ACGB 3 11/21/33","yield":3.15},{"date":"2022-08-20","series":"ACGB 3 11/21/33","yield":3.35},{"date":"2022-09-05","series":"ACGB 3 11/21/33","yield":3.65},{"date":"2022-09-25","series":"ACGB 3 11/21/33","yield":3.95},{"date":"2022-10-05","series":"ACGB 3 11/21/33","yield":3.75},{"date":"2022-10-21","series":"ACGB 3 11/21/33","yield":4.15},{"date":"2022-11-05","series":"ACGB 3 11/21/33","yield":3.95},{"date":"2022-11-25","series":"ACGB 3 11/21/33","yield":3.55},{"date":"2022-12-10","series":"ACGB 3 11/21/33","yield":3.45},{"date":"2022-12-30","series":"ACGB 3 11/21/33","yield":4.00},{"date":"2023-01-20","series":"ACGB 3 11/21/33","yield":3.50},{"date":"2023-02-10","series":"ACGB 3 11/21/33","yield":3.60},{"date":"2023-03-08","series":"ACGB 3 11/21/33","yield":3.90},{"date":"2023-03-20","series":"ACGB 3 11/21/33","yield":3.30},{"date":"2023-04-10","series":"ACGB 3 11/21/33","yield":3.22},{"date":"2023-04-25","series":"ACGB 3 11/21/33","yield":3.40},{"date":"2023-05-10","series":"ACGB 3 11/21/33","yield":3.35},{"date":"2023-05-31","series":"ACGB 3 11/21/33","yield":3.65},{"date":"2023-06-15","series":"ACGB 3 11/21/33","yield":4.05},{"date":"2023-06-28","series":"ACGB 3 11/21/33","yield":3.90},{"date":"2023-07-07","series":"ACGB 3 11/21/33","yield":4.30},{"date":"2023-07-19","series":"ACGB 3 11/21/33","yield":3.88}
    ]
  },
  "vconcat": [
    {
      "hconcat": [
        {"width": 85, "height": 8, "view": {"fill": "#e9a33c", "stroke": null}, "data": {"values": [{}]}, "mark": {"type": "text", "text": "USGG10YR Index", "fontSize": 6, "color": "#222222"}},
        {"width": 150, "height": 8, "view": {"fill": "#b0122c", "stroke": null}, "data": {"values": [{}]}, "mark": {"type": "text", "text": "⚙ Actions ▾", "fontSize": 6.5, "color": "#ffffff"}},
        {"width": 315, "height": 8, "view": {"fill": "#b0122c", "stroke": null}, "data": {"values": [{}]}, "mark": {"type": "text", "text": "", "fontSize": 6}},
        {"width": 90, "height": 8, "view": {"fill": "#b0122c", "stroke": null}, "data": {"values": [{}]}, "mark": {"type": "text", "text": "G 1063872: jp_cgb_20230719", "fontSize": 5.8, "color": "#ffffff"}}
      ]
    },
    {
      "hconcat": [
        {"width": 28, "height": 6, "view": {"fill": "#e9a33c", "stroke": null}, "data": {"values": [{}]}, "mark": {"type": "text", "text": "07/19/2013", "fontSize": 5, "color": "#222222"}},
        {"width": 6, "height": 6, "view": {"fill": "black", "stroke": null}, "data": {"values": [{}]}, "mark": {"type": "text", "text": "-", "fontSize": 5, "color": "#cccccc"}},
        {"width": 28, "height": 6, "view": {"fill": "#e9a33c", "stroke": null}, "data": {"values": [{}]}, "mark": {"type": "text", "text": "07/19/2023", "fontSize": 5, "color": "#222222"}},
        {"width": 20, "height": 6, "view": {"fill": "black", "stroke": null}, "data": {"values": [{}]}, "mark": {"type": "text", "text": "◂ ▸", "fontSize": 5, "color": "#cccccc"}},
        {"width": 26, "height": 6, "view": {"fill": "#e9a33c", "stroke": null}, "data": {"values": [{}]}, "mark": {"type": "text", "text": "Last Px", "fontSize": 5, "color": "#222222"}},
        {"width": 427, "height": 6, "view": {"fill": "#3a3a3a", "stroke": null}, "data": {"values": [{}]}, "mark": {"type": "text", "text": "", "fontSize": 5}},
        {"width": 55, "height": 6, "view": {"fill": "#f2a01e", "stroke": null}, "data": {"values": [{}]}, "mark": {"type": "text", "text": "Mov. Avgs", "fontSize": 5, "color": "#222222"}},
        {"width": 50, "height": 6, "view": {"fill": "black", "stroke": null}, "data": {"values": [{}]}, "mark": {"type": "text", "text": "⚙ ✎ Edit Chart", "fontSize": 5, "color": "#dddddd"}}
      ]
    },
    {
      "width": 622,
      "height": 279,
      "title": {
        "text": "1D\u00a0\u00a0\u00a0\u00a0\u00a03D\u00a0\u00a0\u00a0\u00a0\u00a01M\u00a0\u00a0\u00a0\u00a0\u00a06M\u00a0\u00a0\u00a0\u00a0\u00a0YTD\u00a0\u00a0\u00a0\u00a0\u00a01Y\u00a0\u00a0\u00a0\u00a0\u00a05Y\u00a0\u00a0\u00a0\u00a0\u00a0Max\u00a0\u00a0\u00a0\u00a0\u00a0Daily ▾\u00a0\u00a0\u00a0\u00a0\u00a0⊞\u00a0\u00a0\u00a0\u00a0\u00a0⋮\u00a0\u00a0\u00a0\u00a0\u00a0\u00a0\u00a0\u00a0\u00a0\u00a0\u00a0\u00a0Table",
        "subtitle": "Japan's Bond Yields Are Much Lower Than Those of Peers",
        "anchor": "start", "fontSize": 5, "fontWeight": "normal", "color": "#bbbbbb",
        "subtitleFontSize": 7.6, "subtitleFontWeight": "bold", "subtitleColor": "#ffffff",
        "subtitlePadding": 2, "offset": -2
      },
      "data": {"name": "yields"},
      "resolve": {"axis": {"x": "independent"}},
      "layer": [
        {
          "mark": {"type": "rule", "color": "#c8302c", "strokeDash": [3, 3], "strokeWidth": 1},
          "encoding": {"y": {"datum": 0, "type": "quantitative"}}
        },
        {
          "mark": {"type": "line", "strokeWidth": 1.1},
          "encoding": {
            "x": {
              "field": "date", "type": "temporal",
              "scale": {"domain": [{"year": 2013, "month": 7, "date": 5}, {"year": 2023, "month": 9, "date": 14}]},
              "axis": {
                "orient": "bottom", "title": "Source: Bloomberg", "labels": false,
                "tickCount": {"interval": "year", "step": 1},
                "grid": true, "gridDash": [1, 2], "gridColor": "#777777", "gridOpacity": 0.7,
                "ticks": true, "tickSize": 4, "tickColor": "#bbbbbb", "domainColor": "#cccccc",
                "titleAnchor": "start", "titleAlign": "left", "titleFontSize": 6.3, "titleFontWeight": "bold",
                "titleColor": "#ffffff", "titlePadding": 9
              }
            },
            "y": {
              "field": "yield", "type": "quantitative",
              "scale": {"domain": [-0.78, 5.27], "nice": false, "zero": false},
              "axis": {
                "orient": "right", "values": [0, 1, 2, 3, 4, 5], "title": "Percent", "titleAngle": 90,
                "grid": true, "gridDash": [1, 2], "gridColor": "#777777", "gridOpacity": 0.7,
                "tickSize": 3, "tickColor": "#dddddd", "domainColor": "#dddddd",
                "labelColor": "#dddddd", "labelFontSize": 6.3, "labelPadding": 1,
                "titleColor": "#cccccc", "titleFontSize": 6, "titleFontWeight": "normal", "titlePadding": 2
              }
            },
            "color": {
              "field": "series", "type": "nominal",
              "scale": {"domain": ["US 10-year yield", "China", "Japan", "ACGB 3 11/21/33"], "range": ["#ffffff", "#2e80d6", "#b07be0", "#f26a22"]},
              "legend": {
                "orient": "none", "legendX": 2, "legendY": 36, "direction": "horizontal", "title": null,
                "symbolType": "square", "symbolSize": 30, "symbolStrokeWidth": 0,
                "labelColor": "#ffffff", "labelFontSize": 5.8, "columnPadding": 7, "labelOffset": 2,
                "encode": {"symbols": {"update": {"fill": {"scale": "color", "field": "value"}, "stroke": {"value": "#dddddd"}, "strokeWidth": {"value": 0.5}}}}
              }
            }
          }
        },
        {
          "transform": [
            {"filter": {"field": "series", "equal": "Japan"}},
            {"joinaggregate": [{"op": "max", "field": "date", "as": "last"}]},
            {"filter": "+toDate(datum.date) === +toDate(datum.last)"}
          ],
          "mark": {"type": "point", "filled": true, "color": "#8e1212", "opacity": 0.9, "size": 170},
          "encoding": {
            "x": {
              "field": "date", "type": "temporal",
              "axis": {
                "orient": "bottom", "title": null, "ticks": false, "domain": false, "grid": false,
                "values": [
                  {"year": 2013, "month": 10, "date": 1}, {"year": 2014, "month": 7, "date": 2}, {"year": 2015, "month": 7, "date": 2},
                  {"year": 2016, "month": 7, "date": 2}, {"year": 2017, "month": 7, "date": 2}, {"year": 2018, "month": 7, "date": 2},
                  {"year": 2019, "month": 7, "date": 2}, {"year": 2020, "month": 7, "date": 2}, {"year": 2021, "month": 7, "date": 2},
                  {"year": 2022, "month": 7, "date": 2}
                ],
                "labelExpr": "timeFormat(datum.value, '%Y')",
                "labelColor": "#cccccc", "labelFontSize": 6, "labelPadding": 3
              }
            },
            "y": {"field": "yield", "type": "quantitative"}
          }
        },
        {
          "mark": {"type": "text", "text": "G格隆汇", "font": "Noto Sans CJK SC", "fontWeight": "bold", "fontSize": 15, "color": "#ffffff", "opacity": 0.9},
          "encoding": {
            "x": {"datum": {"year": 2023, "month": 3, "date": 7}, "type": "temporal", "axis": null},
            "y": {"datum": -0.92, "type": "quantitative"}
          }
        },
        {
          "mark": {"type": "text", "text": "Bloomberg", "fontSize": 9, "color": "#ffffff"},
          "encoding": {
            "x": {"datum": {"year": 2023, "month": 5, "date": 12}, "type": "temporal", "axis": null},
            "y": {"datum": -1.18, "type": "quantitative"}
          }
        }
      ]
    }
  ],
  "config": {
    "font": "Liberation Sans",
    "view": {"stroke": null},
    "concat": {"spacing": 0},
    "axis": {"labelFont": "Liberation Sans", "titleFont": "Liberation Sans"}
  }
}
